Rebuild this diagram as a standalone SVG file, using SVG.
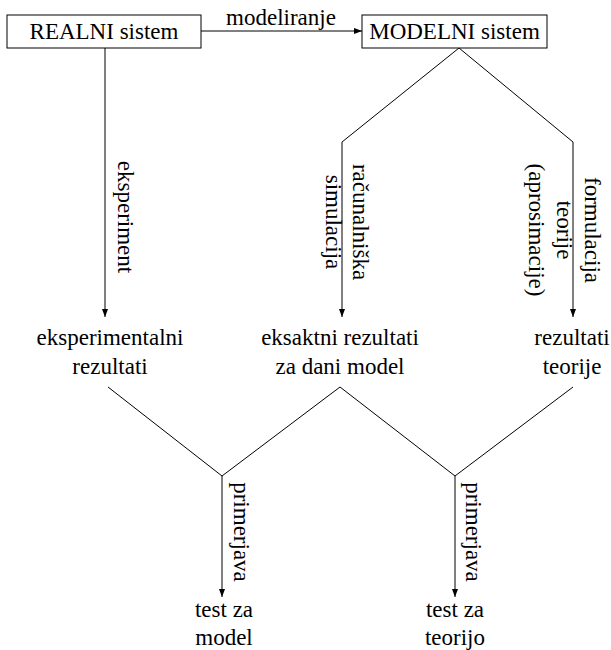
<svg xmlns="http://www.w3.org/2000/svg" width="611" height="650" viewBox="0 0 611 650">
<style>
text{font-family:"Liberation Serif","Times New Roman",serif;font-size:23px;fill:#000;text-anchor:middle}
.box{fill:#fff;stroke:#000;stroke-width:1}
.ln{fill:none;stroke:#000;stroke-width:1}
</style>
<defs>
<marker id="ah" markerUnits="userSpaceOnUse" markerWidth="9" markerHeight="7" refX="8" refY="3" orient="auto">
<path d="M0,0 L8,3 L0,6 z" fill="#000"/>
</marker>
</defs>
<g id="connectors">
<line class="ln" x1="201" y1="31" x2="362" y2="31" marker-end="url(#ah)"/>
<line class="ln" x1="105" y1="48" x2="105" y2="317" marker-end="url(#ah)"/>
<polyline class="ln" points="459,48 342,142 342,317" marker-end="url(#ah)"/>
<polyline class="ln" points="459,48 573,142 573,317" marker-end="url(#ah)"/>
<polyline class="ln" points="108,387 222,476 222,597" marker-end="url(#ah)"/>
<line class="ln" x1="340" y1="387" x2="222" y2="476"/>
<polyline class="ln" points="340,387 455,476 455,597" marker-end="url(#ah)"/>
<line class="ln" x1="573" y1="387" x2="455" y2="476"/>
<text x="281" y="25">modeliranje</text>
<text transform="translate(118,217) rotate(90)">eksperiment</text>
<text transform="translate(353,222) rotate(90)">računalniška</text>
<text transform="translate(326,222) rotate(90)">simulacija</text>
<text transform="translate(585,230) rotate(90)">formulacija</text>
<text transform="translate(557,230) rotate(90)">teorije</text>
<text transform="translate(529,230) rotate(90)">(aprosimacije)</text>
<text transform="translate(234,532) rotate(90)">primerjava</text>
<text transform="translate(466,532) rotate(90)">primerjava</text>
</g>
<g id="realni">
<rect class="box" x="7" y="15" width="194" height="33"/>
<text x="104" y="39">REALNI sistem</text>
</g>
<g id="modelni">
<rect class="box" x="362" y="15" width="185" height="33"/>
<text x="454.5" y="39">MODELNI sistem</text>
</g>
<g id="eksperimentalni">
<text x="110" y="345">eksperimentalni</text>
<text x="110" y="374">rezultati</text>
</g>
<g id="eksaktni">
<text x="340" y="345">eksaktni rezultati</text>
<text x="340" y="374">za dani model</text>
</g>
<g id="teorija">
<text x="572" y="345">rezultati</text>
<text x="572" y="374">teorije</text>
</g>
<g id="testmodel">
<text x="224" y="617">test za</text>
<text x="224" y="645">model</text>
</g>
<g id="testteorija">
<text x="455" y="617">test za</text>
<text x="455" y="645">teorijo</text>
</g>
</svg>
